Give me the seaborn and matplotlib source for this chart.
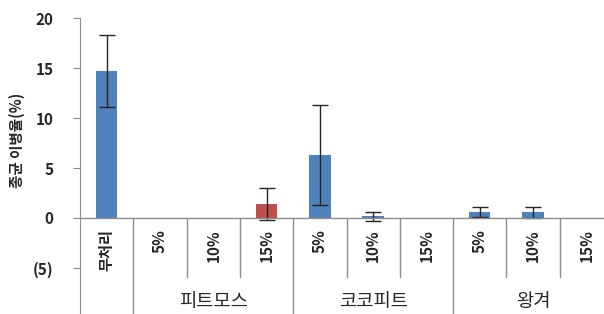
import matplotlib
matplotlib.use("Agg")
import matplotlib.pyplot as plt
import numpy as np
import pandas as pd
import seaborn as sns

# data
keys = ["무처리", "피트모스 5%", "피트모스 10%", "피트모스 15%",
        "코코피트 5%", "코코피트 10%", "코코피트 15%",
        "왕겨 5%", "왕겨 10%", "왕겨 15%"]
tick_labels = ["무처리", "5%", "10%", "15%", "5%", "10%", "15%", "5%", "10%", "15%"]
rate = [14.7, 0.0, 0.0, 1.4, 6.3, 0.2, 0.0, 0.6, 0.6, 0.0]
err = [3.6, 0.0, 0.0, 1.6, 5.0, 0.45, 0.0, 0.5, 0.55, 0.0]
groups = ["피트모스", "코코피트", "왕겨"]
bar_colors = ["#4F81BD", "#4F81BD", "#4F81BD", "#C0504D", "#4F81BD",
              "#4F81BD", "#4F81BD", "#4F81BD", "#4F81BD", "#4F81BD"]

df = pd.DataFrame({"key": keys, "rate": rate})

sns.set_style("white")
plt.rcParams["font.family"] = ["Noto Sans CJK KR", "DejaVu Sans"]

fig = plt.figure(figsize=(6.04, 3.14), dpi=100)
ax = fig.add_axes([80 / 604, 0, 533 / 604, 296 / 314])

sns.barplot(data=df, x="key", y="rate", hue="key", palette=bar_colors,
            order=keys, width=0.4, legend=False, ax=ax, saturation=1,
            linewidth=0)
# error bars only where there is a spread
idx = [i for i, e in enumerate(err) if e > 0]
ax.errorbar(idx, [rate[i] for i in idx], yerr=[err[i] for i in idx], fmt="none",
            ecolor="#262626", elinewidth=1, capsize=6, capthick=1)

ax.set_xlim(-0.5, 9.5)
ax.set_ylim(-9.6, 20)

grey = "#8C8C8C"
for s in ["top", "right", "bottom"]:
    ax.spines[s].set_visible(False)
ax.spines["left"].set_color(grey)
ax.axhline(0, color=grey, lw=1)

ax.set_yticks([-5, 0, 5, 10, 15, 20])
ax.set_yticklabels(["(5)", "0", "5", "10", "15", "20"])
ax.tick_params(axis="y", left=True, length=5, color=grey, labelsize=11,
               labelcolor="#262626", pad=14)
for t in ax.get_yticklabels():
    t.set_fontweight("bold")
ax.set_xticks([])
ax.set_xlabel("")
ax.set_ylabel("종균 이병율(%)", fontsize=10.5, color="#262626", fontweight="bold")
ax.yaxis.set_label_coords(-0.103, 0.588)

# category labels below the zero line
for i, lab in enumerate(tick_labels):
    ax.text(i, -1.1, lab, rotation=90, ha="center", va="top",
            fontsize=11, fontweight="bold", color="#262626")

# separators: short inside groups, long between groups
for b in np.arange(0.5, 9.5, 1.0):
    if b in (0.5, 3.5, 6.5):
        ax.plot([b, b], [0, -9.6], color=grey, lw=1, clip_on=False)
    else:
        ax.plot([b, b], [0, -5.9], color=grey, lw=1)

for g, c in zip(groups, [2, 5, 8]):
    ax.text(c, -8.4, g, ha="center", va="center", fontsize=13.5,
            color="#262626")

fig.savefig("out.png", dpi=100)
